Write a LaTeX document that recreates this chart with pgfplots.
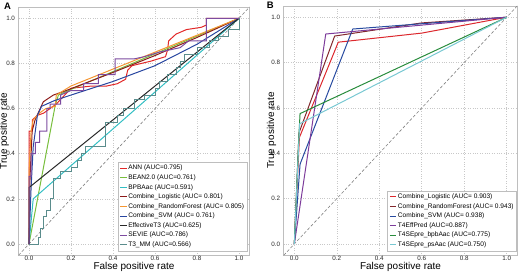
\documentclass[border=0pt]{standalone}
\usepackage{pgfplots}
\pgfplotsset{compat=1.18}
\usepackage{fontspec}
\setmainfont{Liberation Sans}

\definecolor{gridc}{RGB}{200,200,200}
\definecolor{framec}{RGB}{190,190,190}
\definecolor{cANN}{RGB}{226,40,40}
\definecolor{cBEAN}{RGB}{120,190,60}
\definecolor{cBPB}{RGB}{50,190,195}
\definecolor{cLog}{RGB}{140,25,25}
\definecolor{cRF}{RGB}{245,150,50}
\definecolor{cSVM}{RGB}{40,70,160}
\definecolor{cEff}{RGB}{40,40,40}
\definecolor{cSEV}{RGB}{125,75,160}
\definecolor{cT3}{RGB}{90,140,140}
\definecolor{bLog}{RGB}{220,40,45}
\definecolor{bRF}{RGB}{130,40,45}
\definecolor{bSVM}{RGB}{40,75,160}
\definecolor{bT4}{RGB}{125,60,155}
\definecolor{bBpb}{RGB}{40,140,60}
\definecolor{bPs}{RGB}{120,200,210}

\pgfplotsset{
  rocstyle/.style={
    scale only axis,
    xmin=-0.05, xmax=1.05, ymin=-0.05, ymax=1.05,
    xtick={0,0.2,0.4,0.6,0.8,1}, ytick={0,0.2,0.4,0.6,0.8,1},
    grid=major,
    grid style={dotted, color=gridc, line width=0.6bp},
    axis line style={color=framec, line width=0.6bp},
    major tick length=0pt,
    tick label style={font=\fontsize{6.3}{7}\selectfont, color=black!85},
    xticklabel style={inner sep=1bp},
    /pgf/number format/fixed,
    /pgf/number format/fixed zerofill,
    /pgf/number format/precision=1,
    /pgf/number format/assume math mode=true,
    xlabel={False positive rate},
    ylabel={True positive rate},
    label style={font=\fontsize{8.5}{10}\selectfont, color=black!85},
    legend cell align=left,
    legend image code/.code={\draw[##1] (0bp,0bp) -- (6.5bp,0bp);},
    legend style={draw=framec, fill=white, font=\fontsize{6.6}{7.5}\selectfont,
      row sep=1.3bp, inner sep=2bp, nodes={inner sep=1bp}},
    every axis plot/.append style={line width=1bp},
  }
}

\begin{document}
\begin{tikzpicture}[x=1bp,y=1bp]
\useasboundingbox (0,0) rectangle (520,272);
\node[font=\bfseries\fontsize{9.5}{11}\selectfont] at (7.5,266) {A};
\node[font=\bfseries\fontsize{9.5}{11}\selectfont] at (270.3,267) {B};

\begin{axis}[rocstyle,
  at={(18.5bp,16.7bp)}, anchor=south west,
  width=231bp, height=248.3bp,
  every axis y label/.style={at={(axis description cs:-0.062,0.5)}, rotate=90, anchor=center},
  every axis x label/.style={at={(axis description cs:0.5,-0.045)}, anchor=center},
  legend style={at={(0.99,0.017)}, anchor=south east},
]
\addplot[gray, densely dashed, line width=0.6bp, forget plot] coordinates {(-0.05,-0.05) (1.05,1.05)};
\addplot[cANN] coordinates {(0,0) (0,0.50) (0.016,0.50) (0.016,0.55) (0.04,0.57) (0.07,0.58) (0.1,0.6) (0.13,0.62) (0.2,0.69) (0.3,0.70) (0.37,0.70) (0.42,0.71) (0.46,0.73) (0.47,0.77) (0.49,0.79) (0.58,0.81) (0.65,0.83) (0.66,0.86) (0.665,0.90) (0.7,0.93) (0.75,0.95) (0.82,0.96) (0.845,0.97) (0.845,1.0) (1,1)};
\addlegendentry{ANN (AUC=0.795)}
\addplot[cBEAN] coordinates {(0,0) (0.125,0.615) (0.14,0.66) (0.2,0.685) (1,1)};
\addlegendentry{BEAN2.0 (AUC=0.761)}
\addplot[cBPB] coordinates {(0,0) (0.02,0.2) (1,1)};
\addlegendentry{BPBAac (AUC=0.591)}
\addplot[cLog] coordinates {(0,0) (0.005,0.3) (0.015,0.5) (0.029,0.55) (0.068,0.63) (0.116,0.66) (0.163,0.675) (0.4,0.76) (0.6,0.835) (0.8,0.915) (1,1)};
\addlegendentry{Combine\_Logistic (AUC= 0.801)}
\addplot[cRF] coordinates {(0,0) (0,0.32) (0.01,0.5) (0.02,0.55) (0.05,0.58) (0.08,0.6) (0.125,0.61) (0.13,0.66) (0.2,0.70) (1,1)};
\addlegendentry{Combine\_RandomForest (AUC= 0.805)}
\addplot[cSVM] coordinates {(0,0) (0.01,0.25) (0.02,0.43) (0.04,0.57) (0.06,0.61) (0.12,0.635) (0.2,0.66) (0.4,0.72) (0.6,0.79) (0.8,0.885) (1,1)};
\addlegendentry{Combine\_SVM (AUC= 0.761)}
\addplot[cEff] coordinates {(0,0) (0,0.25) (1,1)};
\addlegendentry{EffectiveT3 (AUC=0.625)}
\addplot[cSEV] coordinates {(0,0) (0,0.3) (0.01,0.3) (0.01,0.40) (0.03,0.40) (0.03,0.45) (0.05,0.45) (0.05,0.50) (0.085,0.50) (0.085,0.6) (0.1,0.6) (0.1,0.62) (0.15,0.62) (0.15,0.66) (0.2,0.68) (0.26,0.68) (0.26,0.71) (0.33,0.71) (0.33,0.75) (0.41,0.75) (0.41,0.82) (0.5,0.82) (0.55,0.83) (0.62,0.85) (0.72,0.87) (0.76,0.9) (0.845,0.9) (0.845,1) (1,1)};
\addlegendentry{SEVIE (AUC=0.786)}
\addplot[cT3] coordinates {(0,0) (0.044,0) (0.044,0.03) (0.055,0.03) (0.055,0.07) (0.07,0.07) (0.07,0.12) (0.085,0.12) (0.085,0.15) (0.1,0.15) (0.1,0.2) (0.115,0.2) (0.115,0.29) (0.15,0.29) (0.15,0.32) (0.2,0.32) (0.2,0.34) (0.23,0.34) (0.23,0.37) (0.25,0.37) (0.25,0.4) (0.27,0.4) (0.27,0.43) (0.365,0.43) (0.365,0.54) (0.42,0.54) (0.42,0.57) (0.45,0.57) (0.45,0.6) (0.5,0.6) (0.5,0.64) (0.55,0.64) (0.55,0.66) (0.6,0.66) (0.6,0.69) (0.62,0.69) (0.62,0.72) (0.66,0.72) (0.66,0.75) (0.7,0.75) (0.7,0.78) (0.72,0.78) (0.72,0.81) (0.74,0.81) (0.74,0.84) (0.8,0.84) (0.8,0.87) (0.86,0.87) (0.86,0.9) (0.9,0.9) (0.9,0.92) (0.95,0.92) (0.95,0.95) (1,0.95) (1,1)};
\addlegendentry{T3\_MM (AUC=0.566)}
\end{axis}

\begin{axis}[rocstyle,
  at={(283.7bp,16.7bp)}, anchor=south west,
  width=233.6bp, height=249.4bp,
  every axis y label/.style={at={(axis description cs:-0.052,0.5)}, rotate=90, anchor=center},
  every axis x label/.style={at={(axis description cs:0.5,-0.045)}, anchor=center},
  legend style={at={(0.998,0.017)}, anchor=south east},
]
\addplot[gray, densely dashed, line width=0.6bp, forget plot] coordinates {(-0.05,-0.05) (1.05,1.05)};
\addplot[bLog] coordinates {(0,0) (0.024,0.47) (0.207,0.89) (0.6,0.93) (1,1)};
\addlegendentry{Combine\_Logistic (AUC= 0.903)}
\addplot[bRF] coordinates {(0,0) (0.022,0.49) (0.19,0.917) (0.6,0.975) (1,1)};
\addlegendentry{Combine\_RandomForest (AUC= 0.943)}
\addplot[bSVM] coordinates {(0,0) (0.027,0.352) (0.275,0.948) (1,1)};
\addlegendentry{Combine\_SVM (AUC= 0.938)}
\addplot[bT4] coordinates {(0,0) (0.148,0.926) (1,1)};
\addlegendentry{T4EffPred (AUC=0.887)}
\addplot[bBpb] coordinates {(0,0) (0.02,0.45) (0.027,0.575) (1,1)};
\addlegendentry{T4SEpre\_bpbAac (AUC=0.775)}
\addplot[bPs] coordinates {(0,0) (0.025,0.53) (1,1)};
\addlegendentry{T4SEpre\_psAac (AUC=0.750)}
\end{axis}
\end{tikzpicture}
\end{document}
